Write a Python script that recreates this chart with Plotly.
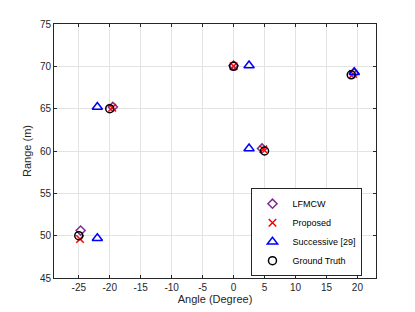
import plotly.graph_objects as go

# Data (Angle in degrees, Range in m)
lfmcw_angle = [-24.7, -19.5, 0.0, 4.6, 19.4]
lfmcw_range = [50.6, 65.2, 70.1, 60.3, 69.2]

proposed_angle = [-24.8, -19.6, 0.0, 4.8, 19.3]
proposed_range = [49.6, 65.1, 70.0, 60.2, 69.1]

successive_angle = [-22.0, -22.0, 2.5, 2.5, 19.5]
successive_range = [49.7, 65.2, 70.1, 60.3, 69.3]

truth_angle = [-25, -20, 0, 5, 19]
truth_range = [50, 65, 70, 60, 69]

x_ticks = [-25, -20, -15, -10, -5, 0, 5, 10, 15, 20]
y_ticks = [45, 50, 55, 60, 65, 70, 75]

FONT = "Liberation Sans, Arial, sans-serif"
AX = "#262626"

fig = go.Figure()
fig.add_trace(go.Scatter(x=lfmcw_angle, y=lfmcw_range, mode="markers", name="LFMCW",
                         marker=dict(symbol="diamond-open", size=7, color="#7E2F8E",
                                     line=dict(width=1.5, color="#7E2F8E"))))
fig.add_trace(go.Scatter(x=proposed_angle, y=proposed_range, mode="markers", name="Proposed",
                         marker=dict(symbol="x-thin-open", size=7.5, color="#FF0000",
                                     line=dict(width=1.5, color="#FF0000"))))
fig.add_trace(go.Scatter(x=successive_angle, y=successive_range, mode="markers", name="Successive [29]",
                         marker=dict(symbol="triangle-up-open", size=9, color="#0000FF",
                                     line=dict(width=1.5, color="#0000FF"))))
fig.add_trace(go.Scatter(x=truth_angle, y=truth_range, mode="markers", name="Ground Truth",
                         marker=dict(symbol="circle-open", size=8, color="#000000",
                                     line=dict(width=1.5, color="#000000"))))

axis_common = dict(showline=True, linecolor=AX, linewidth=1, mirror="ticks",
                   ticks="inside", ticklen=3, tickcolor=AX, tickwidth=1,
                   showgrid=True, gridcolor="#E3E3E3", gridwidth=1, zeroline=False,
                   tickfont=dict(family=FONT, size=10, color=AX))

fig.update_xaxes(range=[-29, 23], tickvals=x_ticks, ticktext=[str(v) for v in x_ticks],
                 title=dict(text="Angle (Degree)", font=dict(family=FONT, size=11, color=AX), standoff=3),
                 **axis_common)
fig.update_yaxes(range=[45, 75], tickvals=y_ticks, ticktext=[str(v) for v in y_ticks],
                 title=dict(text="Range (m)", font=dict(family=FONT, size=11, color=AX), standoff=6),
                 **axis_common)

fig.update_layout(
    width=415, height=312,
    margin=dict(l=54, r=39, t=24, b=34, autoexpand=False),
    paper_bgcolor="white", plot_bgcolor="white",
    font=dict(family=FONT, size=10, color=AX),
    legend=dict(x=0.958, y=0.007, xanchor="right", yanchor="bottom",
                bgcolor="white", bordercolor=AX, borderwidth=1,
                font=dict(family=FONT, size=9, color="#000000"),
                tracegroupgap=0, itemwidth=30),
    showlegend=True,
)

fig.write_html("out.html", config={"displayModeBar": False},
               post_script="document.body.style.margin='0';")
